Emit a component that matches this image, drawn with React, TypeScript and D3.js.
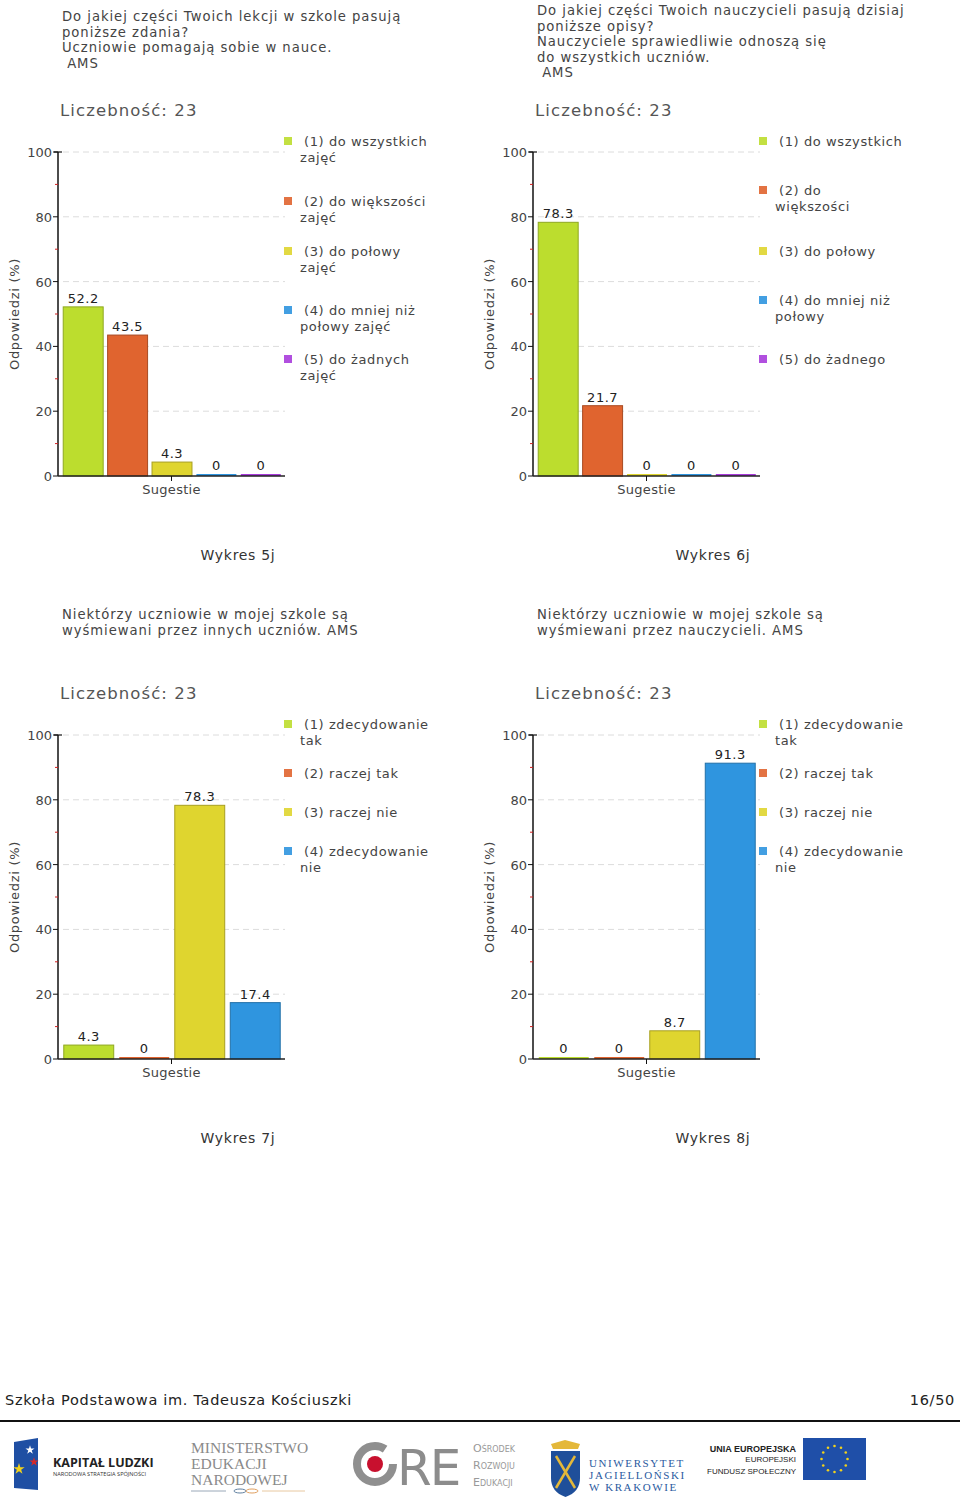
import React from "react";
import * as d3 from "d3";

// ---------- DATA ----------
const title5j = ["Do jakiej części Twoich lekcji w szkole pasują", "poniższe zdania?", "Uczniowie pomagają sobie w nauce.", " AMS"];
const title6j = ["Do jakiej części Twoich nauczycieli pasują dzisiaj", "poniższe opisy?", "Nauczyciele sprawiedliwie odnoszą się", "do wszystkich uczniów.", " AMS"];
const title7j = ["Niektórzy uczniowie w mojej szkole są", "wyśmiewani przez innych uczniów. AMS"];
const title8j = ["Niektórzy uczniowie w mojej szkole są", "wyśmiewani przez nauczycieli. AMS"];

const countLabel = "Liczebność: 23";
const yAxisTitle = "Odpowiedzi (%)";
const xAxisTitle = "Sugestie";

const legend5j = [["(1) do wszystkich", "zajęć"], ["(2) do większości", "zajęć"], ["(3) do połowy", "zajęć"], ["(4) do mniej niż", "połowy zajęć"], ["(5) do żadnych", "zajęć"]];
const legend6j = [["(1) do wszystkich"], ["(2) do", "większości"], ["(3) do połowy"], ["(4) do mniej niż", "połowy"], ["(5) do żadnego"]];
const legend78 = [["(1) zdecydowanie", "tak"], ["(2) raczej tak"], ["(3) raczej nie"], ["(4) zdecydowanie", "nie"]];

const values5j = [52.2, 43.5, 4.3, 0, 0];
const values6j = [78.3, 21.7, 0, 0, 0];
const values7j = [4.3, 0, 78.3, 17.4];
const values8j = [0, 0, 8.7, 91.3];

const yMajorTicks = [0, 20, 40, 60, 80, 100];
const yMinorTicks = [10, 30, 50, 70, 90];

const captions = ["Wykres 5j", "Wykres 6j", "Wykres 7j", "Wykres 8j"];
const footerLeft = "Szkoła Podstawowa im. Tadeusza Kościuszki";
const footerRight = "16/50";

// ---------- STYLE ----------
const fills = ["#BCDD2E", "#E0642F", "#DFD52F", "#2F95DF", "#A83CDB"];
const strokes = ["#8FA820", "#A84A22", "#A89F20", "#2270A8", "#7A2AA0"];
const FONT = "'DejaVu Sans', Verdana, sans-serif";

type ChartProps = {
  ox: number; top: number; title: string[]; titleY: number;
  values: number[]; legend: string[][]; legendOffsets: number[]; caption: string;
};

function Chart({ ox, top, title, titleY, values, legend, legendOffsets, caption }: ChartProps) {
  const bottom = top + 324;
  const right = ox + 227;
  const y = d3.scaleLinear().domain([0, 100]).range([bottom, top]);
  const x = d3.scaleBand<number>().domain(values.map((_, i) => i)).range([ox + 3, ox + 225]).paddingInner(0.1).paddingOuter(0.05);
  return (
    <g fontFamily={FONT}>
      {title.map((t, i) => (
        <text key={i} x={ox + 4} y={titleY + i * 15.5} fontSize={13.2} letterSpacing={0.95} fill="#444" style={{ whiteSpace: "pre" }}>{t}</text>
      ))}
      <text x={ox + 2} y={top - 36} fontSize={16.5} letterSpacing={1.1} fill="#555">{countLabel}</text>
      {/* gridlines */}
      {yMajorTicks.filter(t => t > 0).map(t => (
        <line key={t} x1={ox + 5} x2={right} y1={y(t)} y2={y(t)} stroke="#dcdcdc" strokeDasharray="6,4" />
      ))}
      {/* bars */}
      {values.map((v, i) => {
        const h = Math.max(2, bottom - y(v));
        return (
          <g key={i}>
            <rect x={x(i)!} y={bottom - h} width={x.bandwidth()} height={h} fill={fills[i]} stroke={v > 0 ? strokes[i] : "none"} strokeWidth={1} />
            <text x={x(i)! + x.bandwidth() / 2} y={bottom - h - 4} textAnchor="middle" fontSize={13} letterSpacing={0.5} fill="#222">{String(v)}</text>
          </g>
        );
      })}
      {/* axes */}
      <line x1={ox} x2={ox} y1={top} y2={bottom} stroke="#111" strokeWidth={1.5} />
      <line x1={ox} x2={right} y1={bottom} y2={bottom} stroke="#222" strokeWidth={1.5} />
      <line x1={ox - 4} x2={ox + 4} y1={top} y2={top} stroke="#111" strokeWidth={1.2} />
      {yMajorTicks.map(t => (
        <g key={t}>
          <line x1={ox - 5} x2={ox} y1={y(t)} y2={y(t)} stroke="#111" />
          <text x={ox - 6} y={y(t) + 5} textAnchor="end" fontSize={13} fill="#444">{t}</text>
        </g>
      ))}
      {yMinorTicks.map(t => (
        <line key={t} x1={ox - 3} x2={ox} y1={y(t)} y2={y(t)} stroke="#d02020" />
      ))}
      <line x1={(ox + right) / 2} x2={(ox + right) / 2} y1={bottom} y2={bottom + 5} stroke="#111" />
      <text x={(ox + right) / 2} y={bottom + 18} textAnchor="middle" fontSize={13} letterSpacing={0.3} fill="#444">{xAxisTitle}</text>
      <text transform={`translate(${ox - 39},${(top + bottom) / 2}) rotate(-90)`} textAnchor="middle" fontSize={13} letterSpacing={0.7} fill="#444">{yAxisTitle}</text>
      {/* legend */}
      {legend.map((lines, i) => {
        const cy = top + legendOffsets[i];
        return (
          <g key={i}>
            <rect x={ox + 226} y={cy - 4} width={8} height={8} fill={fills[i]} opacity={0.9} />
            {lines.map((l, j) => (
              <text key={j} x={j === 0 ? ox + 246 : ox + 242} y={cy + 5 + j * 15.5} fontSize={13} letterSpacing={0.6} fill="#444">{l}</text>
            ))}
          </g>
        );
      })}
      <text x={ox + 180} y={top + 408} textAnchor="middle" fontSize={14} letterSpacing={0.7} fill="#333">{caption}</text>
    </g>
  );
}

function Logos() {
  const starAngles = d3.range(12).map(i => (i * Math.PI * 2) / 12);
  const star = d3.symbol().type(d3.symbolStar).size(10)();
  return (
    <g>
      {/* Kapitał Ludzki */}
      <path d="M14,1442 L38,1438 L38,1490 L14,1488 Z" fill="#1f4fa3" />
      <path d={star} transform="translate(30,1450) scale(1.6)" fill="#fff" />
      <path d={star} transform="translate(34,1462) scale(1.6)" fill="#d42a2a" />
      <path d={star} transform="translate(19,1469) scale(2)" fill="#f2d21b" />
      <text x={53} y={1467} fontFamily="'Open Sans', sans-serif" fontWeight={700} fontSize={12.5} fill="#222">KAPITAŁ LUDZKI</text>
      <text x={53} y={1476} fontFamily="'Open Sans', sans-serif" fontSize={5.6} fill="#333">NARODOWA STRATEGIA SPÓJNOŚCI</text>
      {/* MEN */}
      <g fontFamily="'Liberation Serif', serif" fontSize={15.5} fill="#8a8a8a">
        <text x={191} y={1453}>MINISTERSTWO</text>
        <text x={191} y={1469}>EDUKACJI</text>
        <text x={191} y={1485}>NARODOWEJ</text>
      </g>
      <line x1={191} x2={226} y1={1491} y2={1491} stroke="#9aa8b8" />
      <line x1={262} x2={305} y1={1491} y2={1491} stroke="#e8c8a0" />
      <ellipse cx={240} cy={1491} rx={6} ry={2} fill="none" stroke="#6080a0" />
      <ellipse cx={252} cy={1491} rx={6} ry={2} fill="none" stroke="#e0a060" />
      {/* ORE */}
      <circle cx={375} cy={1464} r={18} fill="none" stroke="#8f8f8f" strokeWidth={8} strokeDasharray="95,18" />
      <circle cx={375} cy={1464} r={8} fill="#c8102e" />
      <text x={397} y={1485} fontFamily="'DejaVu Sans', sans-serif" fontSize={50} fill="#8c8c8c" letterSpacing={-2}>RE</text>
      <g fontFamily="'DejaVu Sans', sans-serif" fontSize={11} fill="#999" style={{ fontVariant: "small-caps" }}>
        <text x={473} y={1452}>Ośrodek</text>
        <text x={473} y={1469}>Rozwoju</text>
        <text x={473} y={1486}>Edukacji</text>
      </g>
      {/* UJ */}
      <path d="M551,1444 L565,1440 L580,1444 L578,1449 L553,1449 Z" fill="#e4b83a" />
      <path d="M551,1451 L580,1451 L580,1478 Q580,1492 565.5,1497 Q551,1492 551,1478 Z" fill="#1f4f9a" />
      <line x1={556} x2={575} y1={1456} y2={1488} stroke="#e4b83a" strokeWidth={2.5} />
      <line x1={575} x2={556} y1={1456} y2={1488} stroke="#e4b83a" strokeWidth={2.5} />
      <g fontFamily="'Liberation Serif', serif" fontSize={11} fill="#2a5aa0" letterSpacing={1.6}>
        <text x={589} y={1467}>UNIWERSYTET</text>
        <text x={589} y={1479}>JAGIELLOŃSKI</text>
        <text x={589} y={1491}>W KRAKOWIE</text>
      </g>
      {/* EU */}
      <g fontFamily="'Liberation Sans', sans-serif" fill="#222" textAnchor="end">
        <text x={796} y={1452} fontSize={9} fontWeight={700}>UNIA EUROPEJSKA</text>
        <text x={796} y={1462} fontSize={8}>EUROPEJSKI</text>
        <text x={796} y={1474} fontSize={8}>FUNDUSZ SPOŁECZNY</text>
      </g>
      <rect x={803} y={1438} width={63} height={42} fill="#1f4fa8" />
      {starAngles.map((a, i) => (
        <circle key={i} cx={834.5 + 13 * Math.sin(a)} cy={1459 - 13 * Math.cos(a)} r={1.3} fill="#f2d21b" />
      ))}
    </g>
  );
}

export default function App() {
  return (
    <svg width={960} height={1510} style={{ position: "absolute", left: 0, top: 0, background: "#fff" }}>
      <rect width={960} height={1510} fill="#fff" />
      <Chart ox={58} top={152} title={title5j} titleY={21} values={values5j} legend={legend5j} legendOffsets={[-11, 49, 99, 158, 207]} caption={captions[0]} />
      <Chart ox={533} top={152} title={title6j} titleY={15} values={values6j} legend={legend6j} legendOffsets={[-11, 38, 99, 148, 207]} caption={captions[1]} />
      <Chart ox={58} top={735} title={title7j} titleY={619} values={values7j} legend={legend78} legendOffsets={[-11, 38, 77, 116]} caption={captions[2]} />
      <Chart ox={533} top={735} title={title8j} titleY={619} values={values8j} legend={legend78} legendOffsets={[-11, 38, 77, 116]} caption={captions[3]} />
      <text x={5} y={1405} fontFamily={FONT} fontSize={14.5} letterSpacing={0.7} fill="#222">{footerLeft}</text>
      <text x={955} y={1405} fontFamily={FONT} fontSize={14.5} letterSpacing={0.7} fill="#222" textAnchor="end">{footerRight}</text>
      <line x1={0} x2={960} y1={1421} y2={1421} stroke="#111" strokeWidth={2} />
      <Logos />
    </svg>
  );
}
